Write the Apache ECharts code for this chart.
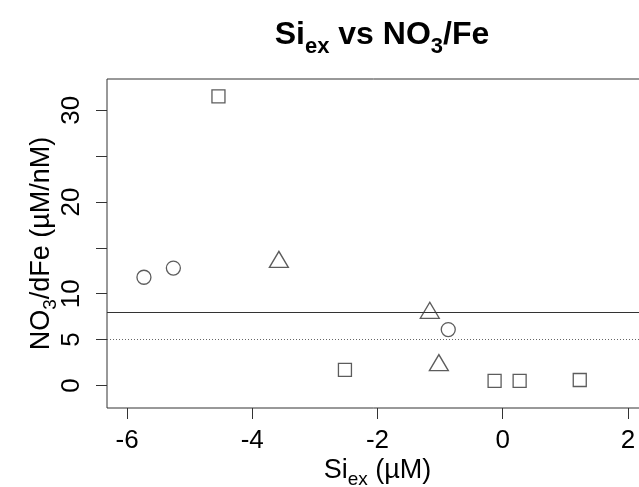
<!DOCTYPE html>
<html>
<head>
<meta charset="utf-8">
<script src="https://cdn.jsdelivr.net/npm/echarts@6/dist/echarts.min.js"></script>
<style>
  html, body { margin: 0; padding: 0; background: #fff; }
  #chart { width: 639px; height: 487px; }
</style>
</head>
<body>
<div id="chart"></div>
<script>
// Excess silicate vs nitrate / dissolved iron ratio, grouped by station type
const squareX = [-4.54, -2.52, -0.13, 0.27, 1.23];
const squareY = [31.5, 1.7, 0.5, 0.5, 0.6];
const circleX = [-5.73, -5.26, -0.87];
const circleY = [11.8, 12.8, 6.1];
const triangleX = [-3.575, -1.165, -1.02];
const triangleY = [13.45, 7.9, 2.2];

// Reference ratios drawn as horizontal lines
const solidRef = 8;
const dottedRef = 5;

// Axis ticks and labels
const xTicks = [-6, -4, -2, 0, 2];
const yTicks = [0, 5, 10, 15, 20, 25, 30];
const yLabels = [0, 5, 10, 20, 30];

const FONT = '"Liberation Sans", Arial, Helvetica, sans-serif';
const INK = '#333';

const pairs = (xs, ys) => xs.map((x, i) => [x, ys[i]]);

const chart = echarts.init(document.getElementById('chart'), null, { renderer: 'canvas' });

const markerStyle = { color: 'rgba(255,255,255,0)', borderColor: INK, borderWidth: 1.3 };

const nameRich = {
  a: { fontFamily: FONT, fontSize: 27, color: '#000', lineHeight: 32, verticalAlign: 'bottom' },
  s: { fontFamily: FONT, fontSize: 19, color: '#000', lineHeight: 32, verticalAlign: 'bottom', padding: [0, 0, -5, 0] }
};

chart.setOption({
  animation: false,
  backgroundColor: '#fff',
  textStyle: { fontFamily: FONT, color: '#000' },
  title: {
    text: '{a|Si}{s|ex}{a| vs NO}{s|3}{a|/Fe}',
    left: 377,
    top: 8,
    textAlign: 'center',
    textStyle: {
      rich: {
        a: { fontFamily: FONT, fontSize: 32, fontWeight: 'bold', color: '#000', lineHeight: 38, verticalAlign: 'bottom' },
        s: { fontFamily: FONT, fontSize: 22, fontWeight: 'bold', color: '#000', lineHeight: 38, verticalAlign: 'bottom', padding: [0, 0, -7, 0] }
      }
    }
  },
  grid: {
    left: 107,
    top: 79,
    width: 541,
    height: 329,
    outerBoundsMode: 'none',
    containLabel: false,
    show: true,
    borderColor: INK,
    borderWidth: 1,
    backgroundColor: 'transparent'
  },
  xAxis: {
    type: 'value',
    min: -6.32,
    max: 2.32,
    name: '{a|Si}{s|ex}{a| (µM)}',
    nameLocation: 'middle',
    nameGap: 44,
    nameMoveOverlap: false,
    nameTextStyle: { rich: nameRich },
    axisLine: { show: false, onZero: false },
    splitLine: { show: false },
    axisTick: { show: true, length: 11, lineStyle: { color: INK, width: 1 }, customValues: xTicks },
    axisLabel: { fontSize: 26, color: '#000', margin: 20, customValues: xTicks, fontFamily: FONT }
  },
  yAxis: {
    type: 'value',
    min: -2.45,
    max: 33.4,
    name: '{a|NO}{s|3}{a|/dFe (µM/nM)}',
    nameLocation: 'middle',
    nameGap: 52,
    nameMoveOverlap: false,
    nameRotate: 90,
    nameTextStyle: { rich: nameRich },
    axisLine: { show: false, onZero: false },
    splitLine: { show: false },
    axisTick: { show: true, length: 11, lineStyle: { color: INK, width: 1 }, customValues: yTicks },
    axisLabel: { fontSize: 26, color: '#000', margin: 22, rotate: 90, customValues: yLabels, fontFamily: FONT }
  },
  series: [
    {
      name: 'squares',
      type: 'scatter',
      symbol: 'rect',
      symbolSize: 13,
      itemStyle: markerStyle,
      data: pairs(squareX, squareY),
      markLine: {
        silent: true,
        symbol: ['none', 'none'],
        label: { show: false },
        data: [
          { yAxis: solidRef, lineStyle: { color: INK, width: 1.1, type: 'solid' } },
          { yAxis: dottedRef, lineStyle: { color: '#666', width: 1.1, type: [1, 2] } }
        ]
      }
    },
    {
      name: 'circles',
      type: 'scatter',
      symbol: 'circle',
      symbolSize: 14,
      itemStyle: markerStyle,
      data: pairs(circleX, circleY)
    },
    {
      name: 'triangles',
      type: 'scatter',
      symbol: 'triangle',
      symbolSize: [19, 16],
      symbolOffset: [0, -2.7],
      itemStyle: markerStyle,
      data: pairs(triangleX, triangleY)
    }
  ]
});
</script>
</body>
</html>
